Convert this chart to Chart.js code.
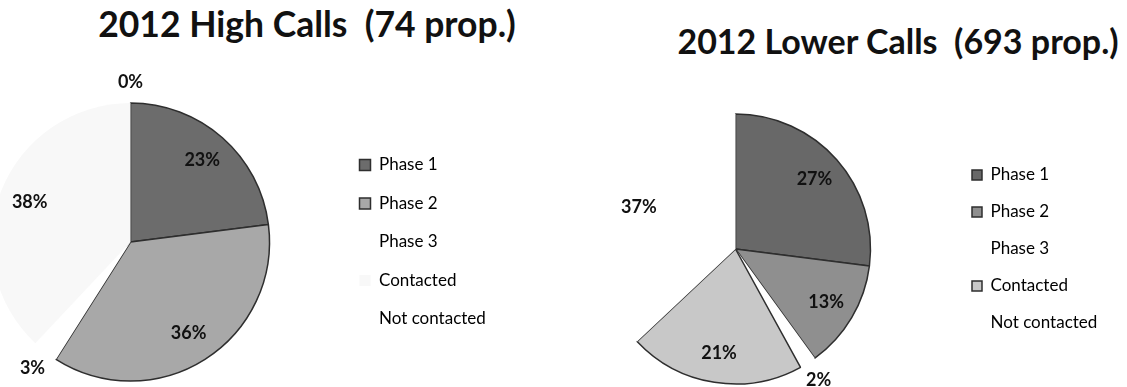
<!DOCTYPE html>
<html>
<head>
<meta charset="utf-8">
<script src="https://cdn.jsdelivr.net/npm/chart.js@4.4.1/dist/chart.umd.min.js"></script>
<style>
  body { margin: 0; background: #fff; width: 1127px; height: 387px; overflow: hidden; position: relative; }
  .title { position: absolute; text-align: center; font-family: Lato, sans-serif; font-weight: bold; color: #111; line-height: 1.2; white-space: pre; }
  #t1 { left: 0; width: 614px; top: 3px; font-size: 35.5px; }
  #t2 { left: 598px; width: 600px; top: 21px; font-size: 34px; }
  canvas { position: absolute; top: 0; }
  #c1 { left: -77px; }
  #c2 { left: 519px; }
</style>
</head>
<body>
<div class="title" id="t1"></div>
<div class="title" id="t2"></div>
<canvas id="c1" width="585" height="387"></canvas>
<canvas id="c2" width="608" height="387"></canvas>
<script>
// call outcome shares, in percent
const categories = ['Phase 1', 'Phase 2', 'Phase 3', 'Contacted', 'Not contacted'];
const highCalls = [23, 36, 3, 38, 0];
const lowerCalls = [27, 13, 2, 21, 37];
const highTitle = '2012 High Calls  (74 prop.)';
const lowerTitle = '2012 Lower Calls  (693 prop.)';

document.getElementById('t1').textContent = highTitle;
document.getElementById('t2').textContent = lowerTitle;

const legendFont = { family: 'Lato', size: 17 };

// percent labels: inside the slice, or just outside for the thin ones
const pctLabels = {
  id: 'pctLabels',
  afterDatasetsDraw(chart) {
    const ctx = chart.ctx;
    const values = chart.data.datasets[0].data;
    ctx.save();
    ctx.font = 'bold 18px Lato';
    ctx.fillStyle = '#111';
    ctx.textAlign = 'center';
    ctx.textBaseline = 'middle';
    chart.getDatasetMeta(0).data.forEach((arc, i) => {
      const p = arc.getProps(['x', 'y', 'startAngle', 'endAngle', 'outerRadius'], true);
      const mid = (p.startAngle + p.endAngle) / 2;
      const r = p.outerRadius * (values[i] < 5 ? 1.15 : 0.78);
      ctx.fillText(values[i] + '%', p.x + Math.cos(mid) * r, p.y + Math.sin(mid) * r);
    });
    ctx.restore();
  }
};

// width chart.js will give a right-hand legend (padding + box + gap + text + 10)
function legendWidth(pad, boxW) {
  const ctx = document.createElement('canvas').getContext('2d');
  ctx.font = legendFont.size + 'px ' + legendFont.family;
  const textW = Math.max(...categories.map(c => ctx.measureText(c).width));
  return pad + boxW + legendFont.size / 2 + textW + 10;
}

// areaW = width left for the pie, so the legend starts right after it
function makePie(id, values, colors, borders, radius, top, bottom, areaW, legendPad, boxW) {
  const canvas = document.getElementById(id);
  const right = canvas.width - areaW - legendWidth(legendPad, boxW);
  return new Chart(canvas, {
    type: 'pie',
    data: {
      labels: categories,
      datasets: [{
        data: values,
        backgroundColor: colors,
        borderColor: '#2e2e2e',
        borderWidth: borders
      }]
    },
    options: {
      responsive: false,
      animation: false,
      events: [],
      radius: radius,
      layout: { padding: { top: top, bottom: bottom, left: 0, right: right } },
      plugins: {
        title: { display: false },
        tooltip: { enabled: false },
        legend: {
          position: 'right',
          labels: {
            boxWidth: boxW,
            boxHeight: boxW,
            padding: legendPad,
            color: '#000',
            font: legendFont
          }
        }
      }
    },
    plugins: [pctLabels]
  });
}

makePie('c1', highCalls,
  ['#6c6c6c', '#a8a8a8', '#ffffff', '#f8f8f8', '#ffffff'],
  [1.5, 1.5, 0, 0, 0],
  139, 100, 3, 415, 21.5, 11);

makePie('c2', lowerCalls,
  ['#686868', '#8f8f8f', '#ffffff', '#c8c8c8', '#ffffff'],
  [1.5, 1.5, 0, 1.5, 0],
  135, 112, 1, 433, 20, 10);
</script>
</body>
</html>
